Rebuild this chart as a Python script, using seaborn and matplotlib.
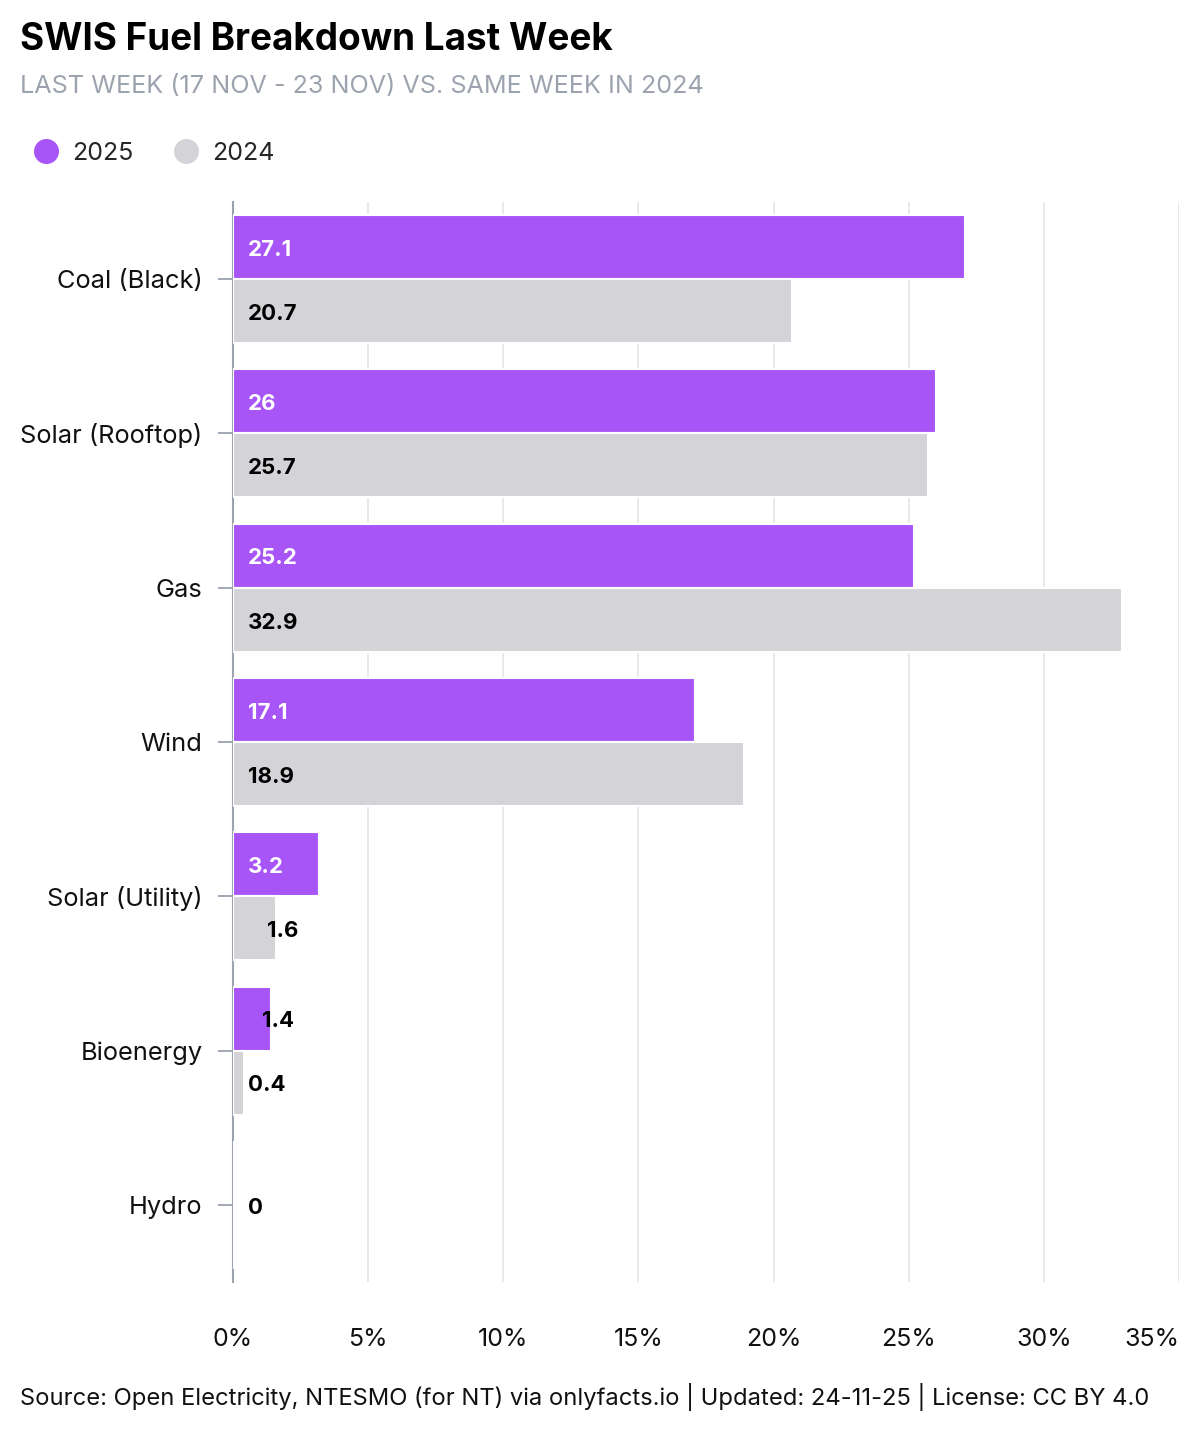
import numpy as np
import pandas as pd
import matplotlib
matplotlib.use("Agg")
import matplotlib.pyplot as plt
from matplotlib.lines import Line2D
import seaborn as sns

fuels = ["Coal (Black)", "Solar (Rooftop)", "Gas", "Wind", "Solar (Utility)", "Bioenergy", "Hydro"]
share_2025 = [27.1, 26.0, 25.2, 17.1, 3.2, 1.4, 0.0]
share_2024 = [20.7, 25.7, 32.9, 18.9, 1.6, 0.4, 0.0]
years = ["2025", "2024"]
x_ticks = [0, 5, 10, 15, 20, 25, 30, 35]

PURPLE = "#a855f7"
GREY = "#d4d4d8"

df = pd.DataFrame({
    "fuel": fuels * 2,
    "year": [years[0]] * len(fuels) + [years[1]] * len(fuels),
    "share": share_2025 + share_2024,
})

sns.set_theme(style="white")
plt.rcParams["font.family"] = ["Inter", "DejaVu Sans"]

fig = plt.figure(figsize=(12, 14.4), dpi=100)
ax = fig.add_axes([233 / 1200, 1 - 1282 / 1440, (1179 - 233) / 1200, (1282 - 202) / 1440])

sns.barplot(data=df, y="fuel", x="share", hue="year", order=fuels, hue_order=years,
            palette={"2025": PURPLE, "2024": GREY}, orient="h", width=0.83,
            saturation=1, edgecolor="white", linewidth=1.5, legend=False, ax=ax, zorder=3)

ax.set_xlim(0, 35)
ax.set_ylim(len(fuels) - 0.5, -0.5)
ax.set_xticks(x_ticks)
ax.set_xticklabels([f"{t}%" for t in x_ticks])
ax.get_xticklabels()[-1].set_horizontalalignment("right")
ax.get_xticklabels()[-1].set_x(35.1)
ax.set_xlabel("")
ax.set_ylabel("")
ax.grid(axis="x", color="#e5e5e5", linewidth=1.2, zorder=0)
ax.grid(axis="y", visible=False)
for s in ["top", "right", "bottom"]:
    ax.spines[s].set_visible(False)
ax.spines["left"].set_color("#9ca3af")
ax.spines["left"].set_linewidth(1.5)
ax.spines["left"].set_zorder(2)
ax.tick_params(axis="x", length=0, pad=33, labelsize=18, labelcolor="#111111")
ax.tick_params(axis="y", length=11, width=1.3, color="#9ca3af", pad=11,
               labelsize=18.3, labelcolor="#111111", left=True)

# value labels
px = 35 / (1179 - 233)
dy = 0.018  # small downward nudge, in category units
for i, (v25, v24) in enumerate(zip(share_2025, share_2024)):
    if v25 == 0 and v24 == 0:
        ax.text(15 * px, i + dy, "0", ha="left", va="center", fontsize=16,
                fontweight="bold", color="black", zorder=5)
        continue
    for cont, v, inside_col in [(ax.containers[0], v25, "white"), (ax.containers[1], v24, "black")]:
        bar = cont[i]
        yc = bar.get_y() + bar.get_height() / 2 + dy
        if v > 3:
            xpos, col = 15 * px, inside_col
        else:
            xpos, col = max(15 * px, v - 9 * px), "black"
        ax.text(xpos, yc, f"{v:g}", ha="left", va="center", fontsize=16,
                fontweight="bold", color=col, zorder=5)

fig.text(20 / 1200, 1 - 40 / 1440, "SWIS Fuel Breakdown Last Week", fontsize=26.6,
         fontweight="bold", color="black", ha="left", va="center")
fig.text(20 / 1200, 1 - 87 / 1440, "LAST WEEK (17 NOV - 23 NOV) VS. SAME WEEK IN 2024",
         fontsize=18.1, color="#9ca3af", ha="left", va="center")

handles = [Line2D([0], [0], marker="o", linestyle="", markersize=17, color=PURPLE),
           Line2D([0], [0], marker="o", linestyle="", markersize=17, color=GREY)]
fig.legend(handles, years, loc="center left", bbox_to_anchor=(23 / 1200, 1 - 153 / 1440),
           ncol=2, frameon=False, fontsize=18, handletextpad=0.55, columnspacing=1.6,
           borderaxespad=0, handlelength=1.0)

fig.text(20 / 1200, 1 - 1397 / 1440,
         "Source: Open Electricity, NTESMO (for NT) via onlyfacts.io | Updated: 24-11-25 | License: CC BY 4.0",
         fontsize=17.1, color="#111111", ha="left", va="center")

fig.savefig("out.png", dpi=100, facecolor="white")
